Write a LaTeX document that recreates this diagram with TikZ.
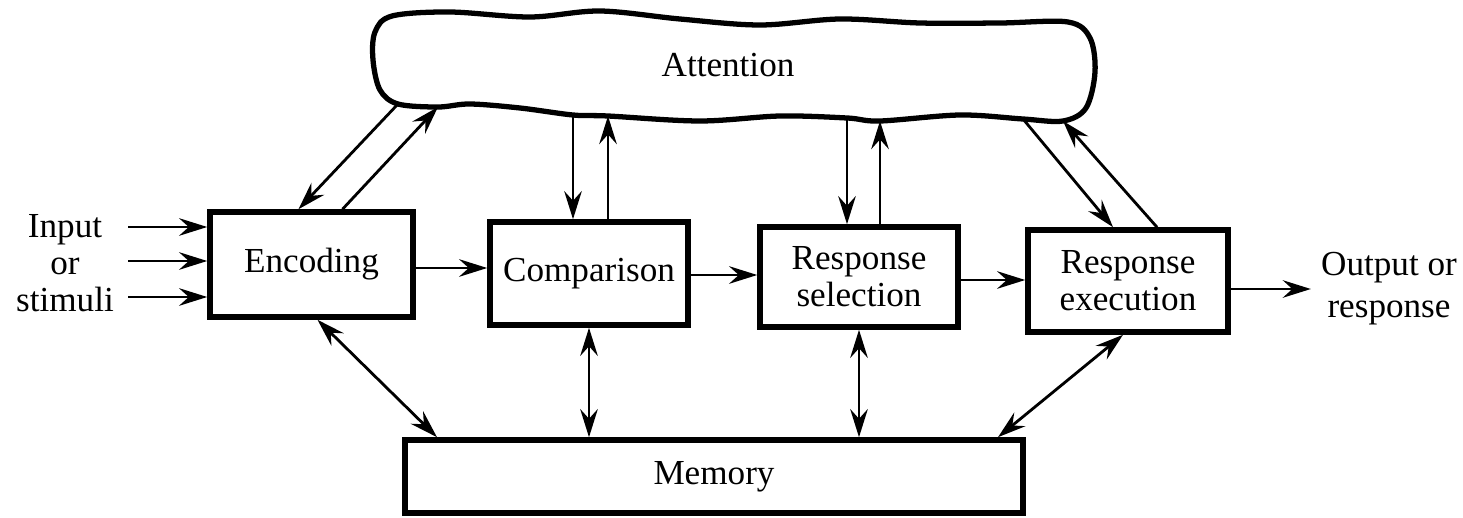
\documentclass[tikz,border=0pt]{standalone}
\usepackage{fontspec}
\setmainfont{Liberation Serif}
\newfontfamily\figfont{Liberation Serif}
\usetikzlibrary{arrows.meta,calc,positioning}
\tikzset{
  basic/.style = {font=\figfont\fontsize{20}{21}\selectfont, align=center, inner sep=0pt},
  block/.style = {basic, draw, line width=3.2pt, rectangle},
  cloud line/.style = {line width=3pt, line join=round},
  arr/.style   = {line width=1.6pt, ->, >={Stealth[length=16pt,width=10pt,inset=5.5pt]}},
  arr2/.style  = {arr, <->}
}

\begin{document}
\begin{tikzpicture}[x=0.02cm,y=-0.02cm]
\useasboundingbox (0,0) rectangle (1463,517);
\draw[cloud line] plot[smooth cycle, tension=0.55] coordinates {
  (375,32) (392,16) (450,12) (530,17) (600,11) (680,19) (760,25) (840,19) (920,23)
  (1000,23) (1068,22) (1090,38) (1095,72) (1086,108) (1063,121) (1023,119) (960,115)
  (880,121) (847,118) (780,116) (700,121) (608,116) (573,115) (520,108) (470,104)
  (438,107) (398,104) (380,90) (373,60)};
\node[basic] (att) at (728,65) {Attention};
\coordinate (att-e1) at (398,104);
\coordinate (att-e2) at (438,107);
\coordinate (att-c1) at (573,115);
\coordinate (att-c2) at (608,116);
\coordinate (att-s1) at (847,118);
\coordinate (att-s2) at (880,121);
\coordinate (att-x1) at (1023,119);
\coordinate (att-x2) at (1063,121);

\node[block, minimum width=4.06cm, minimum height=2.1cm] (enc) at (311.5,264.5) {Encoding};
\node[block, minimum width=3.96cm, minimum height=2.06cm] (cmp) at (589,273.5) {Comparison};
\node[block, minimum width=3.96cm, minimum height=2cm] (sel) at (859,277) {Response\\selection};
\node[block, minimum width=4cm, minimum height=2.04cm] (exe) at (1128,281) {Response\\execution};
\node[block, minimum width=12.36cm, minimum height=1.46cm] (mem) at (714,476.5) {Memory};
\node[basic] (inp) at (65,263) {Input\\or\\stimuli};
\node[basic, font=\figfont\fontsize{20}{24}\selectfont] (out) at (1389,289) {Output or\\response};

\coordinate (in1) at (128,227);
\coordinate (in2) at (128,261);
\coordinate (in3) at (128,297);
\draw[arr] (in1) -- (in1 -| enc.west);
\draw[arr] (in2) -- (in2 -| enc.west);
\draw[arr] (in3) -- (in3 -| enc.west);

\draw[arr] (enc.east |- 0,268) -- (cmp.west |- 0,268);
\draw[arr] (cmp.east |- 0,275) -- (sel.west |- 0,275);
\draw[arr] (sel.east |- 0,280) -- (exe.west |- 0,280);
\draw[arr] (exe.east |- out) -- ($(out.west)+(-10,0)$);

\draw[arr] (att-e1) -- ($(enc.north)+(-13,0)$);
\draw[arr] ($(enc.north)+(31,0)$) -- (att-e2);
\draw[arr] (att-c1) -- (att-c1 |- cmp.north);
\draw[arr] (att-c2 |- cmp.north) -- (att-c2);
\draw[arr] (att-s1) -- (att-s1 |- sel.north);
\draw[arr] (att-s2 |- sel.north) -- (att-s2);
\draw[arr] (att-x1) -- ($(exe.north)+(-15,0)$);
\draw[arr] ($(exe.north)+(29,0)$) -- (att-x2);

\draw[arr2] ($(enc.south)+(6,0)$) -- ($(mem.north)+(-277,0)$);
\draw[arr2] (cmp.south) -- (cmp.south |- mem.north);
\draw[arr2] (sel.south) -- (sel.south |- mem.north);
\draw[arr2] ($(exe.south)+(-5,0)$) -- ($(mem.north)+(284,0)$);
\end{tikzpicture}
\end{document}
